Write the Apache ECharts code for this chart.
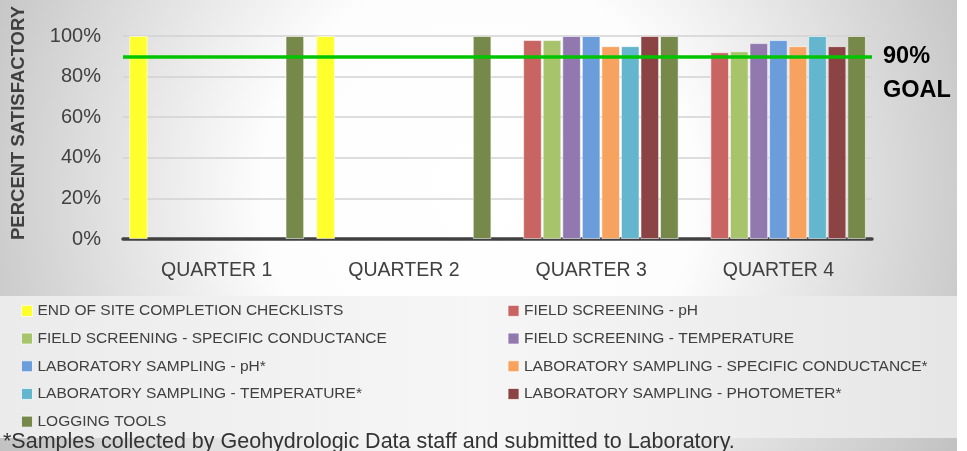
<!DOCTYPE html>
<html>
<head>
<meta charset="utf-8">
<script src="https://cdn.jsdelivr.net/npm/echarts@6/dist/echarts.min.js"></script>
<style>
html,body{margin:0;padding:0;background:#fff;}
#chart{width:967px;height:451px;}
</style>
</head>
<body>
<div id="chart"></div>
<script>
const categories = ['QUARTER 1', 'QUARTER 2', 'QUARTER 3', 'QUARTER 4'];
const seriesNames = [
  'END OF SITE COMPLETION CHECKLISTS',
  'FIELD SCREENING - pH',
  'FIELD SCREENING - SPECIFIC CONDUCTANCE',
  'FIELD SCREENING - TEMPERATURE',
  'LABORATORY SAMPLING - pH*',
  'LABORATORY SAMPLING - SPECIFIC CONDUCTANCE*',
  'LABORATORY SAMPLING - TEMPERATURE*',
  'LABORATORY SAMPLING - PHOTOMETER*',
  'LOGGING TOOLS'
];
const endOfSite = [100, 100, null, null];
const fieldPH = [null, null, 98, 92];
const fieldSC = [null, null, 98, 92.5];
const fieldTemp = [null, null, 100, 96.5];
const labPH = [null, null, 100, 98];
const labSC = [null, null, 95, 95];
const labTemp = [null, null, 95, 100];
const labPhoto = [null, null, 100, 95];
const loggingTools = [100, 100, 100, 100];
const yTicks = [0, 20, 40, 60, 80, 100];
const goalValue = 90;
const goalLabel = '90%\nGOAL';
const yAxisTitle = 'PERCENT SATISFACTORY';
const footnote = '*Samples collected by Geohydrologic Data staff and submitted to Laboratory.';

const allData = [endOfSite, fieldPH, fieldSC, fieldTemp, labPH, labSC, labTemp, labPhoto, loggingTools];
const colors = ['#ffff2e', '#c86462', '#a7c36b', '#9179af', '#6b9ddb', '#f7a35f', '#63b6cd', '#8b4443', '#76884a'];

const font = '"Liberation Sans", Arial, sans-serif';
const txt = '#404040';

const chart = echarts.init(document.getElementById('chart'));

const series = allData.map((d, i) => {
  const s = {
    name: seriesNames[i],
    type: 'bar',
    data: d,
    barGap: '5%',
    barCategoryGap: '6.5%',
    itemStyle: { color: colors[i], borderColor: 'rgba(255,255,255,0.55)', borderWidth: 1 },
    emphasis: { disabled: true },
    z: 3
  };
  if (i === 0) {
    s.markLine = {
      silent: true,
      symbol: 'none',
      label: { show: false },
      lineStyle: { color: '#00c400', width: 3.5, type: 'solid' },
      data: [{ yAxis: goalValue }],
      z: 10
    };
  }
  return s;
});

const option = {
  animation: false,
  backgroundColor: 'transparent',
  color: colors,
  graphic: [
    {
      type: 'rect', z: -10, silent: true,
      shape: { x: 0, y: 0, width: 957, height: 451 },
      style: {
        fill: {
          type: 'radial', x: 0.5, y: 0.42, r: 1.2,
          colorStops: [
            { offset: 0, color: '#ffffff' },
            { offset: 0.4, color: '#fdfdfd' },
            { offset: 1, color: '#c2c2c2' }
          ]
        }
      }
    },
    {
      type: 'rect', z: -9, silent: true,
      shape: { x: 0, y: 296, width: 957, height: 142 },
      style: {
        fill: {
          type: 'linear', x: 0, y: 0, x2: 1, y2: 0,
          colorStops: [
            { offset: 0, color: '#ebebeb' },
            { offset: 0.5, color: '#f6f6f6' },
            { offset: 1, color: '#e6e6e6' }
          ]
        }
      }
    },
    {
      type: 'text', silent: true,
      x: 19, y: 123, rotation: Math.PI / 2,
      style: {
        text: yAxisTitle, fill: txt,
        font: 'bold 18.5px ' + font,
        align: 'center', verticalAlign: 'middle'
      }
    },
    {
      type: 'text', silent: true,
      x: 883, y: 40,
      style: {
        text: goalLabel, fill: '#000',
        font: 'bold 23.5px ' + font,
        lineHeight: 34, align: 'left', verticalAlign: 'top'
      }
    },
    {
      type: 'text', silent: true,
      x: 3, y: 442,
      style: {
        text: footnote, fill: '#333',
        font: '21.5px ' + font,
        align: 'left', verticalAlign: 'middle'
      }
    }
  ],
  grid: { left: 123, right: 95, top: 36, bottom: 212, containLabel: false },
  legend: {
    left: 21, top: 302, width: 966,
    padding: 0,
    orient: 'horizontal',
    itemWidth: 11, itemHeight: 11, itemGap: 10,
    icon: 'rect',
    selectedMode: false,
    itemStyle: { borderColor: 'rgba(255,255,255,0.7)', borderWidth: 1 },
    textStyle: {
      color: txt, fontFamily: font, fontSize: 15.5,
      width: 460, overflow: 'none', lineHeight: 17.7
    },
    data: seriesNames
  },
  xAxis: {
    type: 'category',
    data: categories,
    axisLine: { lineStyle: { color: '#404040', width: 3.5 } },
    axisTick: { show: false },
    axisLabel: { color: txt, fontFamily: font, fontSize: 19.5, margin: 22 },
    splitLine: { show: false }
  },
  yAxis: {
    type: 'value',
    min: yTicks[0], max: yTicks[yTicks.length - 1], interval: 20,
    axisLine: { show: false },
    axisTick: { show: false },
    axisLabel: { color: txt, fontFamily: font, fontSize: 20, margin: 22, formatter: '{value}%' },
    splitLine: { lineStyle: { color: '#d2d2d2', width: 1.5 } }
  },
  series: series
};
chart.setOption(option);
</script>
</body>
</html>
